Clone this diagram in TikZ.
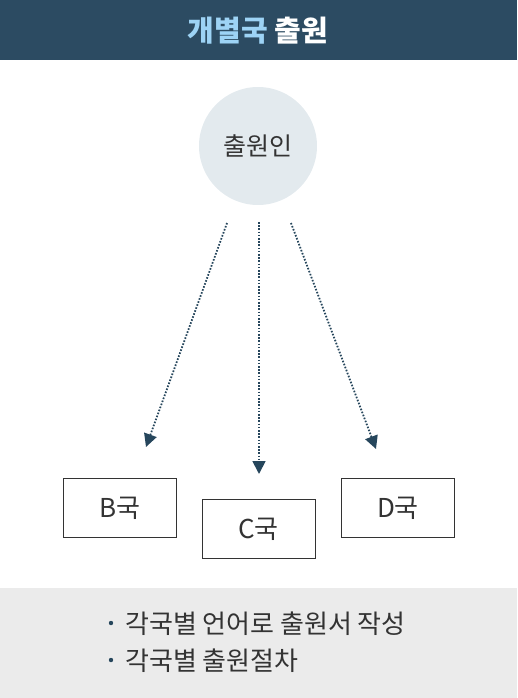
\documentclass[tikz,border=0pt]{standalone}
\usepackage{fontspec}
\setmainfont{Noto Sans CJK KR}
\usetikzlibrary{arrows.meta, positioning}
\definecolor{navy_band}{RGB}{44, 75, 98}
\definecolor{sky_blue}{RGB}{157, 211, 245}
\definecolor{circle_gray}{RGB}{227, 234, 238}
\definecolor{text_gray}{RGB}{51, 51, 51}
\definecolor{foot_gray}{RGB}{235, 235, 235}
\definecolor{arrow_blue}{RGB}{38, 70, 92}

\begin{document}
\begin{tikzpicture}[
    x=1pt, y=-1pt,
    country/.style={
        rectangle,
        draw=text_gray,
        thin,
        minimum width=113pt,
        minimum height=59pt,
        text=text_gray,
        font=\fontsize{26}{30}\selectfont
    },
    applicant/.style={
        circle,
        fill=circle_gray,
        minimum size=118pt,
        text=text_gray,
        font=\fontsize{25}{30}\selectfont
    },
    note/.style={
        anchor=west,
        text=text_gray,
        inner sep=0pt,
        font=\fontsize{26}{30}\selectfont
    },
    arrow/.style={
        -{Triangle[length=13pt,width=13pt]},
        arrow_blue,
        line width=1.8pt,
        dash pattern=on 1.6pt off 1.6pt
    }
]

% Canvas and bands
\useasboundingbox (0,0) rectangle (517,698);
\fill[navy_band] (0,0) rectangle (517,60);
\fill[foot_gray] (0,588) rectangle (517,698);

% Title
\node[font=\fontsize{29}{34}\selectfont\bfseries] (title) at (258,31)
    {\textcolor{sky_blue}{개별국} \textcolor{white}{출원}};

% Applicant circle
\node[applicant] (person) at (258,146) {출원인};

% Country boxes
\node[country] (bcountry) at (120,508) {B국};
\node[country] (ccountry) at (258.5,529) {C국};
\node[country] (dcountry) at (398,508) {D국};

% Arrow ends
\coordinate (bstart) at (227,223);
\coordinate (cstart) at (259,222);
\coordinate (dstart) at (291,223);
\coordinate (bend) at (146,447);
\coordinate (cend) at (259,474);
\coordinate (dend) at (376,449);

\draw[arrow] (bstart) -- (bend);
\draw[arrow] (cstart) -- (cend);
\draw[arrow] (dstart) -- (dend);

% Notes at the bottom
\node[note] (note1) at (125,624) {각국별 언어로 출원서 작성};
\node[note] (note2) at (125,661) {각국별 출원절차};
\fill[arrow_blue] (111,623) circle (2.2pt);
\fill[arrow_blue] (111,660) circle (2.2pt);

\end{tikzpicture}
\end{document}
